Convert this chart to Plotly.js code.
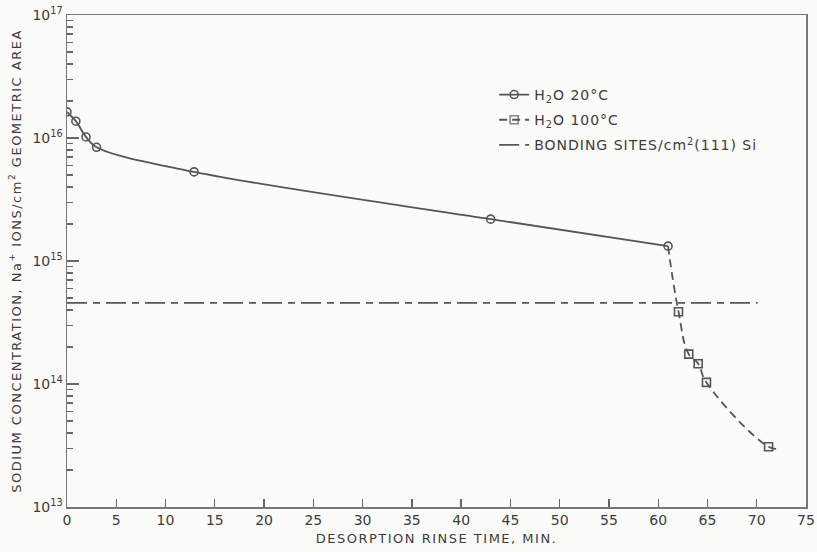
<!DOCTYPE html>
<html>
<head>
<meta charset="utf-8">
<script src="https://cdn.plot.ly/plotly-3.0.1.min.js"></script>
<style>
  html, body { margin: 0; padding: 0; background: #fbfbfa; }
  #chart { width: 817px; height: 552px; }
  .xtitle, .ytitle { letter-spacing: 1.5px; }
  .legendtext { letter-spacing: 1px; }
</style>
</head>
<body>
<div id="chart"></div>
<script>
// Rinse time (min) and Na+ surface concentration (ions/cm^2)
const time20 = [0, 0.9, 1.93, 3.0, 12.9, 43.0, 61.0];
const conc20 = [1.63e16, 1.37e16, 1.02e16, 8.4e15, 5.3e15, 2.19e15, 1.32e15];

const time100 = [61.0, 62.06, 63.1, 64.06, 64.9, 71.2, 72.1];
const conc100 = [1.32e15, 3.87e14, 1.75e14, 1.46e14, 1.03e14, 3.09e13, 2.98e13];
const marked100 = [false, true, true, true, true, true, false];

// Bonding sites per cm^2 on (111) Si
const bondTime = [0, 70.1];
const bondSites = [4.56e14, 4.56e14];

const xTicks = [0, 5, 10, 15, 20, 25, 30, 35, 40, 45, 50, 55, 60, 65, 70, 75];
const yDecades = [1e13, 1e14, 1e15, 1e16, 1e17];
const yDecadeLabels = ['10<sup>13</sup>', '10<sup>14</sup>', '10<sup>15</sup>', '10<sup>16</sup>', '10<sup>17</sup>'];

const ink = '#555555';
const textInk = '#3c3c3c';
const tickInk = '#666666';

// minor ticks 2..9 within each decade, drawn on an unlabeled overlay axis
const yMinor = [];
for (let d = 0; d < yDecades.length - 1; d++) {
  for (let m = 2; m <= 9; m++) yMinor.push(yDecades[d] * m);
}

const traces = [
  {
    x: time20, y: conc20, name: 'H<sub>2</sub>O 20°C', legendgroup: 'a',
    mode: 'lines+markers',
    line: { color: ink, width: 1.8, shape: 'spline', smoothing: 1 },
    marker: { symbol: 'circle-open', size: 8, color: ink, line: { width: 1.6, color: ink } }
  },
  {
    x: time100, y: conc100, name: 'H<sub>2</sub>O 100°C', legendgroup: 'b',
    mode: 'lines+markers',
    line: { color: ink, width: 1.8, dash: '8px,5px', shape: 'spline', smoothing: 1.3 },
    marker: {
      symbol: 'square-open', color: ink, size: 8,
      opacity: marked100.map(m => m ? 1 : 0),
      line: { width: 1.6, color: ink }
    }
  },
  {
    x: bondTime, y: bondSites, name: 'BONDING SITES/cm<sup>2</sup>(111) Si', legendgroup: 'c',
    mode: 'lines',
    line: { color: ink, width: 1.8, dash: '20px,6px,7px,6px' }
  },
  // empty trace so the minor-tick overlay axis gets drawn
  { x: [], y: [], yaxis: 'y2', mode: 'lines', showlegend: false, hoverinfo: 'skip' }
];

const layout = {
  width: 817, height: 552,
  margin: { l: 67, r: 11, t: 15, b: 45 },
  paper_bgcolor: '#fbfbfa',
  plot_bgcolor: '#fbfbfa',
  font: { family: 'DejaVu Sans, Verdana, sans-serif', color: textInk, size: 13 },
  showlegend: true,
  legend: {
    x: 0.578, y: 0.87, xanchor: 'left', yanchor: 'top',
    bgcolor: 'rgba(0,0,0,0)', borderwidth: 0,
    font: { size: 14, color: textInk },
    tracegroupgap: 4
  },
  xaxis: {
    range: [0, 75], showgrid: false, zeroline: false,
    showline: true, linecolor: '#777', linewidth: 1.5, mirror: true,
    tickmode: 'array', tickvals: xTicks, ticktext: xTicks.map(String),
    ticks: 'inside', ticklen: 8, tickcolor: tickInk, tickwidth: 1.3,
    tickfont: { size: 14, color: textInk },
    title: { text: 'DESORPTION RINSE TIME, MIN.', font: { size: 13, color: textInk }, standoff: 6 }
  },
  yaxis: {
    type: 'log', range: [13, 17], showgrid: false, zeroline: false,
    showline: true, linecolor: '#777', linewidth: 1.5, mirror: true,
    tickmode: 'array', tickvals: yDecades, ticktext: yDecadeLabels,
    ticks: 'inside', ticklen: 12, tickcolor: tickInk, tickwidth: 1.3,
    tickfont: { size: 14, color: textInk },
    title: { text: 'SODIUM CONCENTRATION, Na<sup>+</sup> IONS/cm<sup>2</sup> GEOMETRIC AREA', font: { size: 13, color: textInk }, standoff: 8 }
  },
  yaxis2: {
    type: 'log', range: [13, 17], autorange: false, overlaying: 'y', side: 'left',
    showgrid: false, zeroline: false, showline: false, showticklabels: false,
    tickmode: 'array', tickvals: yMinor,
    ticks: 'inside', ticklen: 6, tickcolor: tickInk, tickwidth: 1.2
  }
};

Plotly.newPlot('chart', traces, layout, { displayModeBar: false, staticPlot: true });
</script>
</body>
</html>
